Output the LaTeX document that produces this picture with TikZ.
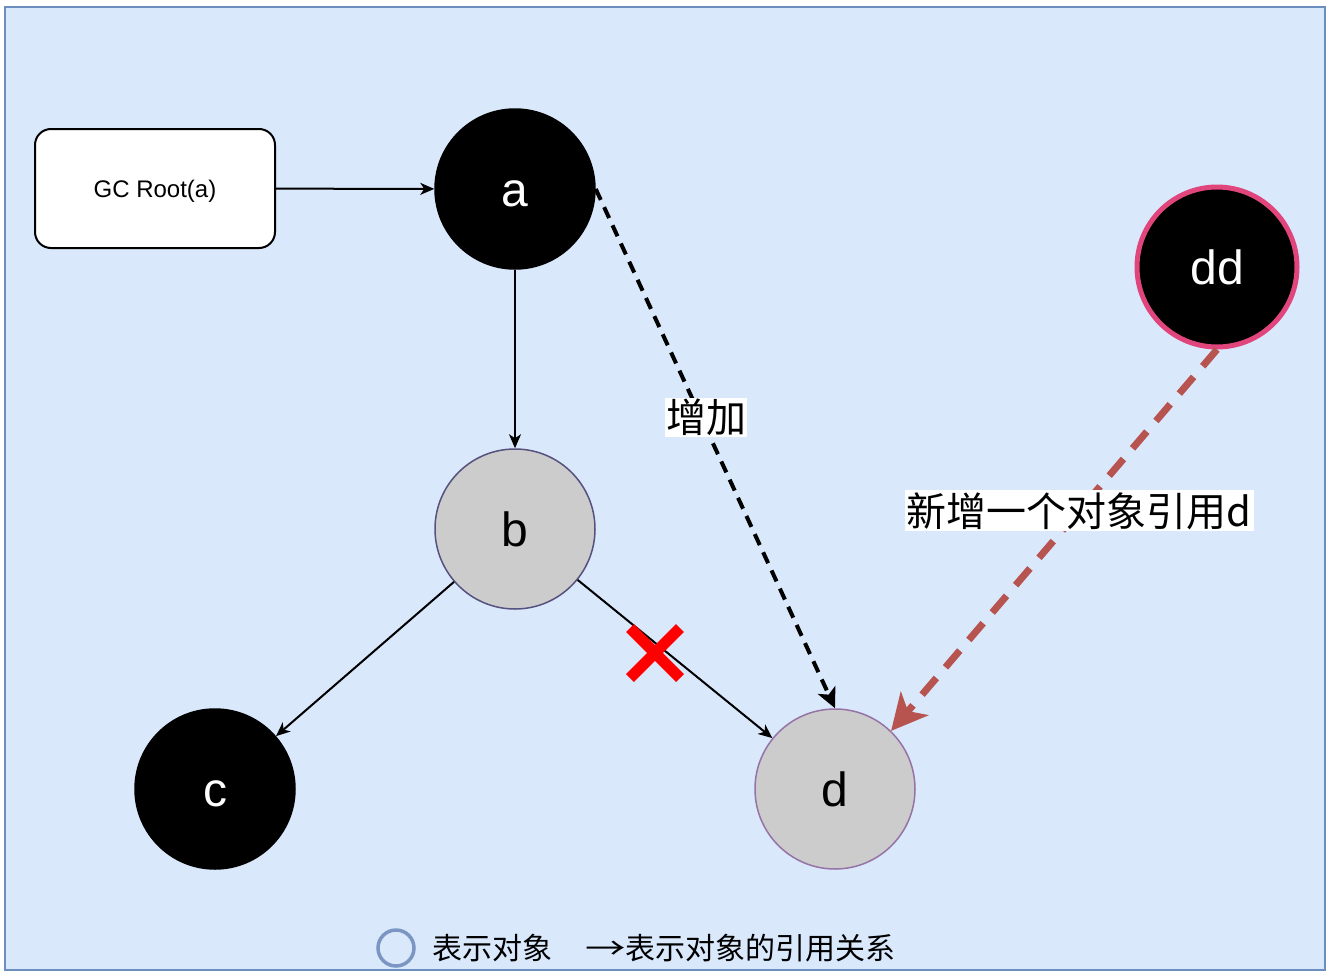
\documentclass[tikz,border=0pt]{standalone}
\usepackage{fontspec}
\usepackage{graphicx}
\setmainfont{Liberation Sans}
\newfontfamily\cjk{Noto Sans CJK SC}
\usetikzlibrary{arrows.meta,calc}
\definecolor{bgblue}{HTML}{DAE8FC}
\definecolor{frameblue}{HTML}{6C8EBF}
\definecolor{nodegray}{HTML}{CCCCCC}
\definecolor{bpurple}{HTML}{56517E}
\definecolor{dpurple}{HTML}{9673A6}
\definecolor{ddpink}{HTML}{E0457B}
\definecolor{brownred}{HTML}{B85450}
\definecolor{legendblue}{HTML}{7B96C2}
\tikzset{
  objbase/.style={circle, minimum size=160pt, inner sep=0pt, line width=1.5pt, font=\fontsize{48}{52}\selectfont, text height=35pt, text depth=0pt},
  objblack/.style={objbase, fill=black, draw=black, text=white},
  objgray/.style={objbase, fill=nodegray, text=black},
  rootbox/.style={rectangle, rounded corners=16pt, minimum width=240pt, minimum height=119pt, fill=white, draw=black, line width=2pt, font=\fontsize{24}{28}\selectfont, text height=17.5pt, text depth=0pt},
  ref/.style={draw=black, line width=2pt, -{Stealth[length=14pt,width=12pt,inset=4pt]}},
  addref/.style={draw=black, line width=4pt, dash pattern=on 12pt off 8pt, -{Stealth[length=20pt,width=19pt,inset=5pt]}},
  newref/.style={draw=brownred, line width=7pt, dash pattern=on 22pt off 14pt, -{Stealth[length=36pt,width=36pt,inset=10pt]}},
  edgelabel/.style={fill=white, inner sep=1pt, font=\cjk\fontsize{40}{44}\selectfont},
  legendtext/.style={font=\cjk\fontsize{30}{33}\selectfont, inner sep=0pt}
}
\begin{document}
\begin{tikzpicture}[x=1pt,y=-1pt]
\useasboundingbox (0,0) rectangle (1334,980);
\fill[white] (0,0) rectangle (1334,980);
\draw[fill=bgblue, draw=frameblue, line width=2pt] (5,7) rectangle (1325,970);

\node[rootbox] (gc) at (155,188.5) {GC Root(a)};
\node[objblack] (a) at (515,189) {a};
\node[objgray, draw=bpurple] (b) at (515,529) {b};
\node[objblack] (c) at (215,789) {c};
\node[objgray, draw=dpurple] (d) at (835,789) {d};
\node[objblack, draw=ddpink, line width=5pt] (dd) at (1217,267) {dd};

\draw[ref] (gc) -- (a);
\draw[ref] (a) -- (b);
\draw[ref] (b) -- (c);
\draw[ref] (b) -- (d);
\draw[addref] (a.east) -- node[edgelabel, pos=0.44, xshift=5pt] (lab1) {增加} (d.north);
\draw[newref] (dd.south) -- node[edgelabel, pos=0.423, inner sep=2pt] (lab2) {新增一个对象引用d} (d.46);

\coordinate (xc) at (655,653);
\draw[red, line width=11pt] ($(xc)+(-25,-25)$) -- ($(xc)+(25,25)$);
\draw[red, line width=11pt] ($(xc)+(-25,25)$) -- ($(xc)+(25,-25)$);

\node[circle, draw=legendblue, line width=3.5pt, minimum size=36pt, inner sep=0pt] (lgc) at (396,948) {};
\node[legendtext, anchor=west] (lgt1) at (432,948) {表示对象};
\node[legendtext, anchor=west] (lgt2) at (585,948) {\scalebox{1.35}[1]{→}表示对象的引用关系};
\end{tikzpicture}
\end{document}
